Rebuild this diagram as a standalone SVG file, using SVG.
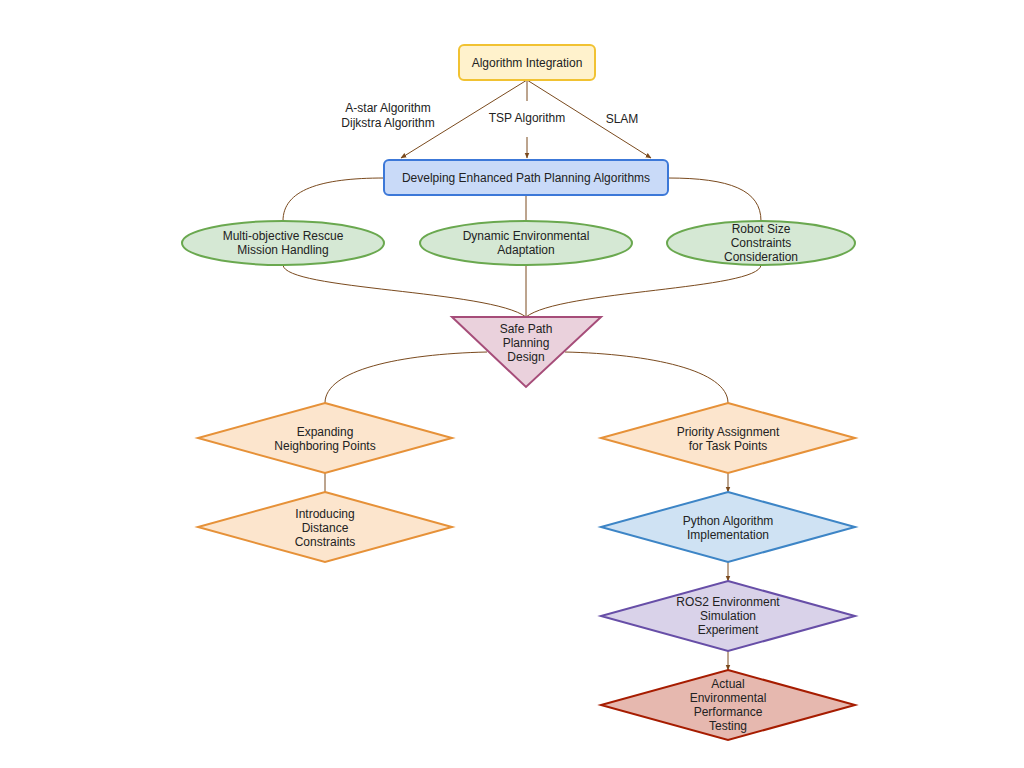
<svg xmlns="http://www.w3.org/2000/svg" width="1024" height="768" viewBox="0 0 1024 768">
<defs>
<marker id="ah" viewBox="0 0 10 10" refX="9" refY="5" markerWidth="6" markerHeight="6" orient="auto" markerUnits="userSpaceOnUse">
<path d="M0,1 L10,5 L0,9 z" fill="#7a4a1e"/>
</marker>
<style>
text{font-family:"Liberation Sans",Arial,sans-serif;font-size:12px;fill:#222;text-anchor:middle}
.c{fill:none;stroke:#7a4a1e;stroke-width:1}
.a{marker-end:url(#ah)}
.ell{fill:#d5e8d4;stroke:#6aa84f;stroke-width:2}
.org{fill:#fce5cd;stroke:#e69138;stroke-width:2}
</style>
</defs>
<rect width="1024" height="768" fill="#fff"/>
<g id="connectors">
<line class="c a" x1="527" y1="80" x2="401" y2="158"/>
<line class="c a" x1="527" y1="80" x2="651" y2="158"/>
<line class="c" x1="527" y1="80" x2="527" y2="101"/>
<line class="c a" x1="527" y1="137" x2="527" y2="158"/>
<path class="c" d="M384,178 C320,178 283,190 283,221"/>
<path class="c" d="M668,178 C730,178 761,190 761,221"/>
<line class="c" x1="526" y1="195" x2="526" y2="221"/>
<path class="c" d="M283,265 C285,290 490,290 526,317"/>
<path class="c" d="M761,265 C759,290 560,290 526,317"/>
<line class="c" x1="526" y1="265" x2="526" y2="317"/>
<path class="c" d="M487,352 C400,354 325,370 325,403"/>
<path class="c" d="M565,352 C650,354 728,370 728,403"/>
<line class="c" x1="325" y1="473" x2="325" y2="492"/>
<line class="c a" x1="728" y1="473" x2="728" y2="492"/>
<line class="c a" x1="728" y1="562" x2="728" y2="581"/>
<line class="c a" x1="728" y1="651" x2="728" y2="670"/>
<text x="388" y="112">A-star Algorithm</text>
<text x="388" y="127">Dijkstra Algorithm</text>
<text x="527" y="122">TSP Algorithm</text>
<text x="622" y="123">SLAM</text>
</g>
<g id="n-integration">
<rect x="459" y="45" width="136" height="35" rx="5" fill="#fff2cc" stroke="#f1c232" stroke-width="2"/>
<text x="527" y="67">Algorithm Integration</text>
</g>
<g id="n-developing">
<rect x="384" y="160" width="284" height="35" rx="5" fill="#c9daf8" stroke="#3c78d8" stroke-width="2"/>
<text x="526" y="182">Develping Enhanced Path Planning Algorithms</text>
</g>
<g id="n-multi">
<ellipse class="ell" cx="283" cy="243" rx="101" ry="22"/>
<text x="283" y="240">Multi-objective Rescue</text>
<text x="283" y="254">Mission Handling</text>
</g>
<g id="n-dynamic">
<ellipse class="ell" cx="526" cy="243" rx="106" ry="22"/>
<text x="526" y="240">Dynamic Environmental</text>
<text x="526" y="254">Adaptation</text>
</g>
<g id="n-robot">
<ellipse class="ell" cx="761" cy="243" rx="94" ry="22"/>
<text x="761" y="233">Robot Size</text>
<text x="761" y="247">Constraints</text>
<text x="761" y="261">Consideration</text>
</g>
<g id="n-safe">
<polygon points="452,317 601,317 526,387" fill="#ead1dc" stroke="#a64d79" stroke-width="2"/>
<text x="526" y="333">Safe Path</text>
<text x="526" y="347">Planning</text>
<text x="526" y="361">Design</text>
</g>
<g id="n-expanding">
<polygon class="org" points="325,403 452,438 325,473 198,438"/>
<text x="325" y="436">Expanding</text>
<text x="325" y="450">Neighboring Points</text>
</g>
<g id="n-introducing">
<polygon class="org" points="325,492 452,527 325,562 198,527"/>
<text x="325" y="518">Introducing</text>
<text x="325" y="532">Distance</text>
<text x="325" y="546">Constraints</text>
</g>
<g id="n-priority">
<polygon class="org" points="728,403 855,438 728,473 601,438"/>
<text x="728" y="436">Priority Assignment</text>
<text x="728" y="450">for Task Points</text>
</g>
<g id="n-python">
<polygon points="728,492 855,527 728,562 601,527" fill="#cfe2f3" stroke="#3d85c6" stroke-width="2"/>
<text x="728" y="525">Python Algorithm</text>
<text x="728" y="539">Implementation</text>
</g>
<g id="n-ros2">
<polygon points="728,581 855,616 728,651 601,616" fill="#d9d2e9" stroke="#674ea7" stroke-width="2"/>
<text x="728" y="606">ROS2 Environment</text>
<text x="728" y="620">Simulation</text>
<text x="728" y="634">Experiment</text>
</g>
<g id="n-actual">
<polygon points="728,670 855,705 728,740 601,705" fill="#e6b8af" stroke="#a61c00" stroke-width="2"/>
<text x="728" y="688">Actual</text>
<text x="728" y="702">Environmental</text>
<text x="728" y="716">Performance</text>
<text x="728" y="730">Testing</text>
</g>
</svg>
